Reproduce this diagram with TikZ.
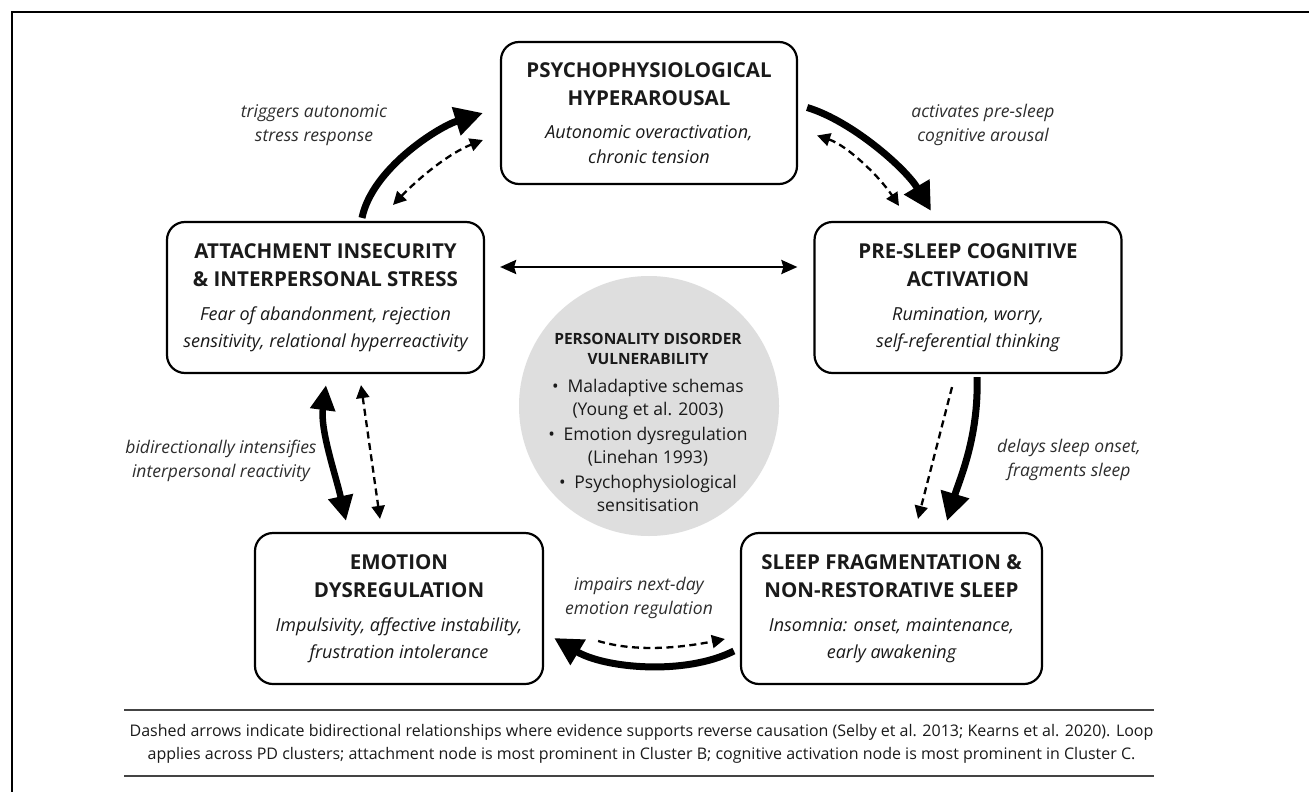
\documentclass[tikz,border=0pt]{standalone}
\usepackage{fontspec}
\setmainfont{Open Sans}
\usetikzlibrary{arrows.meta,calc}
\definecolor{txt}{HTML}{1A1A1A}
\definecolor{itc}{HTML}{2E2E2E}
\definecolor{pdfill}{HTML}{DEDEDE}
\definecolor{rule}{HTML}{444444}
\newcommand\ttlf{\fontsize{20.5}{24.5}\selectfont\bfseries}
\newcommand\itlf{\fontsize{18}{24.5}\selectfont\itshape}
\newcommand\pdtf{\fontsize{15.5}{23}\selectfont\bfseries}
\newcommand\pdbf{\fontsize{17.5}{23}\selectfont}
\newcommand\lblf{\fontsize{17.5}{24}\selectfont\itshape}
\begin{document}
\begin{tikzpicture}[x=1pt,y=-1pt,
  box/.style={draw=black, line width=2.2pt, rounded corners=18pt, align=center, inner sep=0pt, text=txt, fill=white, font=\fontsize{18}{24.5}\selectfont},
  lbl/.style={align=center, text=itc, font=\lblf, inner sep=0pt},
  bigarrow/.style={line width=7pt, -{Triangle[length=28pt,width=28pt]}},
  bigboth/.style={line width=6.5pt, {Triangle[length=25pt,width=24pt]}-{Triangle[length=25pt,width=24pt]}},
  dasharrow/.style={line width=2.3pt, dash pattern=on 7pt off 4.5pt, {Triangle[length=13pt,width=13pt]}-{Triangle[length=13pt,width=13pt]}},
  dashone/.style={line width=2.3pt, dash pattern=on 7pt off 4.5pt, -{Triangle[length=13pt,width=13pt]}},
  harrow/.style={line width=2.6pt, {Stealth[length=16pt,width=14pt,inset=2pt]}-{Stealth[length=16pt,width=14pt,inset=2pt]}},
  frame/.style={line width=2.5pt, draw=black},
  footrule/.style={line width=2.2pt, draw=rule}
]
\useasboundingbox (0,0) rectangle (1309,792);
\fill[white] (0,0) rectangle (1309,792);
% outer frame (top and left edges visible)
\coordinate (fbl) at (12,800);
\coordinate (ftl) at (12,12);
\coordinate (ftr) at (1320,12);
\draw[frame] (fbl) -- (ftl) -- (ftr);

% central circle
\node[circle, fill=pdfill, minimum size=260pt, inner sep=0pt] (pd) at (649,406) {};
\node[align=center, inner sep=0pt, text=txt, font=\fontsize{17.5}{23}\selectfont] (pdtext) at (648,422) {%
  {\pdtf PERSONALITY DISORDER}\\[-3pt]
  {\pdtf VULNERABILITY}\\[5pt]
  {\pdbf \textbullet\enspace Maladaptive schemas}\\
  {\pdbf (Young et al. 2003)}\\[2pt]
  {\pdbf \textbullet\enspace Emotion dysregulation}\\
  {\pdbf (Linehan 1993)}\\[2pt]
  {\pdbf \textbullet\enspace Psychophysiological}\\
  {\pdbf sensitisation}};

% boxes
\node[box, minimum width=296pt, minimum height=142pt] (hyper) at (649,113) {%
  {\ttlf PSYCHOPHYSIOLOGICAL}\\[3.5pt]
  {\ttlf HYPERAROUSAL}\\[8.5pt]
  {\itlf Autonomic overactivation,}\\
  {\itlf chronic tension}};
\node[box, minimum width=317pt, minimum height=151pt] (attach) at (325.5,297.5) {%
  {\ttlf ATTACHMENT INSECURITY}\\[3.5pt]
  {\ttlf \& INTERPERSONAL STRESS}\\[9.5pt]
  {\itlf Fear of abandonment, rejection}\\[2pt]
  {\itlf sensitivity, relational hyperreactivity}};
\node[box, minimum width=307pt, minimum height=151pt] (cog) at (968,297.5) {%
  {\ttlf PRE-SLEEP COGNITIVE}\\[3.5pt]
  {\ttlf ACTIVATION}\\[9.5pt]
  {\itlf Rumination, worry,}\\[2pt]
  {\itlf self-referential thinking}};
\node[box, minimum width=288pt, minimum height=151pt] (emo) at (399,608.5) {%
  {\ttlf EMOTION}\\[3.5pt]
  {\ttlf DYSREGULATION}\\[9.5pt]
  {\itlf Impulsivity, affective instability,}\\[2pt]
  {\itlf frustration intolerance}};
\node[box, minimum width=301pt, minimum height=151pt] (sleep) at (891.5,608.5) {%
  {\ttlf SLEEP FRAGMENTATION \&}\\[3.5pt]
  {\ttlf NON-RESTORATIVE SLEEP}\\[9.5pt]
  {\itlf Insomnia: onset, maintenance,}\\[2pt]
  {\itlf early awakening}};

% connectors
% attachment -> hyperarousal
\draw[bigarrow] ($(attach.north)+(36.5,-3)$) .. controls ($(attach.north)+(46.5,-52)$) and ($(hyper.west)+(-62,14)$) .. ($(hyper.west)+(-17,0)$);
\draw[dasharrow] ($(attach.north)+(67.5,-16)$) .. controls ($(attach.north)+(95.5,-45)$) and ($(hyper.west)+(-50,40)$) .. ($(hyper.west)+(-17,27)$);
% hyperarousal -> cognitive
\draw[bigarrow] ($(hyper.east)+(9,-5.5)$) .. controls ($(hyper.east)+(54,8)$) and ($(cog.north)+(-62,-52)$) .. ($(cog.north)+(-37,-10)$);
\draw[dasharrow] ($(hyper.east)+(19,22.5)$) .. controls ($(hyper.east)+(49,32.5)$) and ($(cog.north)+(-89,-45)$) .. ($(cog.north)+(-69,-15)$);
% attachment <-> cognitive
\draw[harrow] ($(attach.east)+(15,-30.5)$) -- ($(cog.west)+(-16,-30.5)$);
% cognitive -> sleep
\draw[bigarrow] ($(cog.south)+(9,3)$) .. controls ($(cog.south)+(11,63)$) and ($(sleep.north)+(67.5,-51)$) .. ($(sleep.north)+(55.5,-11)$);
\draw[dashone] ($(cog.south)+(-16,13)$) -- ($(sleep.north)+(26.5,-13)$);
% attachment <-> emotion
\draw[bigboth] ($(attach.south)+(0.5,11)$) .. controls ($(attach.south)+(-5.5,56)$) and ($(emo.north)+(-63,-56)$) .. ($(emo.north)+(-53,-11)$);
\draw[dasharrow] ($(attach.south)+(35.5,11)$) -- ($(emo.north)+(-19,-13)$);
% sleep -> emotion
\draw[bigarrow] ($(sleep.west)+(-6,42.5)$) .. controls ($(sleep.west)+(-56,67.5)$) and ($(emo.east)+(60,59.5)$) .. ($(emo.east)+(10,29.5)$);
\draw[dashone] ($(emo.east)+(54,32.5)$) .. controls ($(emo.east)+(94,44.5)$) and ($(sleep.west)+(-55,38.5)$) .. ($(sleep.west)+(-15,30.5)$);

% labels
\node[lbl] (ltrig) at (314,125) {triggers autonomic\\stress response};
\node[lbl] (lact) at (983,125) {activates pre-sleep\\cognitive arousal};
\node[lbl] (lbid) at (221,461) {bidirectionally intensifies\\interpersonal reactivity};
\node[lbl] (ldel) at (1069,460) {delays sleep onset,\\fragments sleep};
\node[lbl] (limp) at (639,598) {impairs next-day\\emotion regulation};

% footer
\coordinate (r1a) at (124,710);
\coordinate (r1b) at (1154,710);
\coordinate (r2a) at (124,776);
\coordinate (r2b) at (1154,776);
\draw[footrule] (r1a) -- (r1b);
\draw[footrule] (r2a) -- (r2b);
\node[align=center, inner sep=0pt, text=txt, font=\fontsize{16}{23}\selectfont] (foot) at (641.5,743.5) {Dashed arrows indicate bidirectional relationships where evidence supports reverse causation (Selby et al. 2013; Kearns et al. 2020). Loop\\applies across PD clusters; attachment node is most prominent in Cluster B; cognitive activation node is most prominent in Cluster C.};
\end{tikzpicture}
\end{document}
